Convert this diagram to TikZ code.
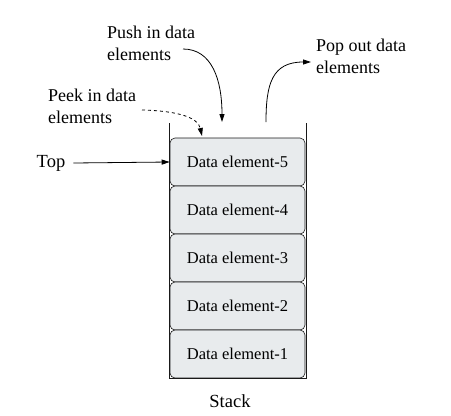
\documentclass[tikz,border=0pt]{standalone}
\usepackage{fontspec}
\setmainfont{Liberation Serif}
\usepackage{tikz}
\usetikzlibrary{arrows.meta}
\definecolor{boxgray}{HTML}{E8EBED}

\begin{document}
\begin{tikzpicture}[x=1pt, y=-1pt,
		block/.style={rectangle, inner sep=0pt, minimum width=135pt, minimum height=48pt, rounded corners=5pt, draw=black!90, line width=0.6pt, fill=boxgray, font=\fontsize{16.5}{19}\selectfont},
		str/.style={inner sep=0pt, align=left, anchor=west, font=\fontsize{18}{22}\selectfont},
		arrow/.style={-{Triangle[length=8pt, width=5pt]}, thick},
		wall/.style={line width=0.6pt, black!90}]
		
		\useasboundingbox (0,0) rectangle (451,416);
		
		\node[block] (d5) at (237.5, 162) {Data element-5};
		\node[block] (d4) at (237.5, 210) {Data element-4};
		\node[block] (d3) at (237.5, 258) {Data element-3};
		\node[block] (d2) at (237.5, 306) {Data element-2};
		\node[block] (d1) at (237.5, 354) {Data element-1};
		
		\coordinate (wl) at (169, 123);
		\coordinate (wr) at (306, 123);
		\draw[wall] (wl) -- (169, 378) -- (306, 378) -- (wr);
		
		\node[str, anchor=center, font=\fontsize{18.5}{22}\selectfont] (stack) at (230, 401) {Stack};
		\node[str, anchor=center, font=\fontsize{18.5}{22}\selectfont] (top) at (51, 163) {Top};
		\draw (top.east) ++(8,0) coordinate (topstart);
		\draw[arrow] (topstart) -- (d5.west);
		
		\node[str] (push) at (107, 43) {Push in data\\elements};
		\node[str] (pop) at (316, 56) {Pop out data\\elements};
		\node[str] (peek) at (48, 106) {Peek in data\\elements};
		
		\coordinate (pushstart) at (183, 49);
		\coordinate (pushend) at (222, 122);
		\draw[arrow] (pushstart) .. controls (212, 49) and (222, 80) .. (pushend);
		
		\coordinate (popstart) at (266, 122);
		\coordinate (popend) at (311, 62);
		\draw[arrow] (popstart) .. controls (266, 84) and (272, 62) .. (popend);
		
		\coordinate (peekstart) at (142, 110);
		\coordinate (peekend) at (202, 136);
		\draw[arrow, dashed] (peekstart) .. controls (180, 111) and (198, 118) .. (peekend);
		
	\end{tikzpicture}
\end{document}
